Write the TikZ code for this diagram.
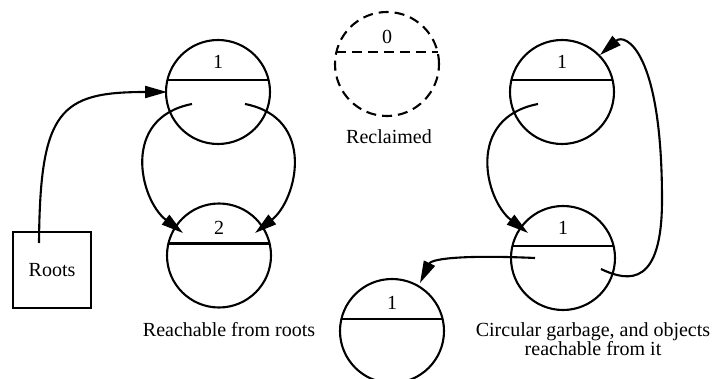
\documentclass[tikz,border=0pt]{standalone}
\usepackage{fontspec}
\setmainfont{Liberation Serif}
\usetikzlibrary{arrows.meta}
\begin{document}
\begin{tikzpicture}[x=1pt,y=-1pt,
  obj/.style={circle,draw,line width=2.1pt,minimum size=104pt,inner sep=0pt,outer sep=0pt},
  gone/.style={obj,dash pattern=on 10pt off 6pt},
  lbl/.style={font=\fontsize{20}{18.3}\selectfont,inner sep=0pt},
  ln/.style={line width=2.1pt},
  edge/.style={line width=2.1pt,-{Triangle[length=22pt,width=12pt]}},
  rootbox/.style={draw,line width=2.1pt,minimum width=78pt,minimum height=76pt,inner sep=0pt,outer sep=0pt,font=\fontsize{20}{22}\selectfont}]
\useasboundingbox (0,0) rectangle (714,379);
% objects
\node[obj] (A) at (218,92) {};
\node[obj] (B) at (219,255.5) {};
\node[gone] (Z) at (387,64) {};
\node[obj] (C) at (562,92) {};
\node[obj] (D) at (563,258) {};
\node[obj] (E) at (392,331) {};
\draw[ln] (A.center) ++(-50.6,-12) -- ++(101.2,0);
\draw[ln] (B.center) ++(-50.6,-12) -- ++(101.2,0);
\draw[ln,dash pattern=on 10pt off 6pt] (Z.center) ++(-50.6,-12) -- ++(101.2,0);
\draw[ln] (C.center) ++(-50.6,-12) -- ++(101.2,0);
\draw[ln] (D.center) ++(-50.6,-12) -- ++(101.2,0);
\draw[ln] (E.center) ++(-50.6,-12) -- ++(101.2,0);
\node[lbl] (An) at (218,62) {1};
\node[lbl] (Bn) at (219,228) {2};
\node[lbl] (Zn) at (387,37) {0};
\node[lbl] (Cn) at (562,62) {1};
\node[lbl] (Dn) at (563,228) {1};
\node[lbl] (En) at (392,303) {1};
% roots
\node[rootbox] (R) at (52,270) {Roots};
% labels
\node[lbl] (lab1) at (229,330) {Reachable from roots};
\node[lbl] (lab2) at (389,137) {Reclaimed};
\node[lbl,align=center] (lab3) at (593,339) {Circular garbage, and objects\\reachable from it};
% connector end points
\coordinate (r0) at (39,243);
\coordinate (a0) at (167,92);
\coordinate (a1) at (192,104);
\coordinate (a2) at (245,104);
\coordinate (b1) at (183,233);
\coordinate (b2) at (255,233);
\coordinate (c1) at (538,104);
\coordinate (c0) at (600,55);
\coordinate (d0) at (528,233);
\coordinate (d1) at (535,258);
\coordinate (d2) at (601,269);
\coordinate (e0) at (420,283);
% connectors
\draw[edge] (r0) .. controls (40,110) and (60,92) .. (a0);
\draw[edge] (a1) .. controls (120,118) and (140,200) .. (b1);
\draw[edge] (a2) .. controls (317,118) and (297,200) .. (b2);
\draw[edge] (c1) .. controls (465,118) and (485,200) .. (d0);
\draw[edge] (d2) .. controls (630,283) and (662,285) .. (662,200) .. controls (662,50) and (625,33) .. (c0);
\draw[edge] (d1) .. controls (470,255) and (432,258) .. (e0);
\end{tikzpicture}
\end{document}
